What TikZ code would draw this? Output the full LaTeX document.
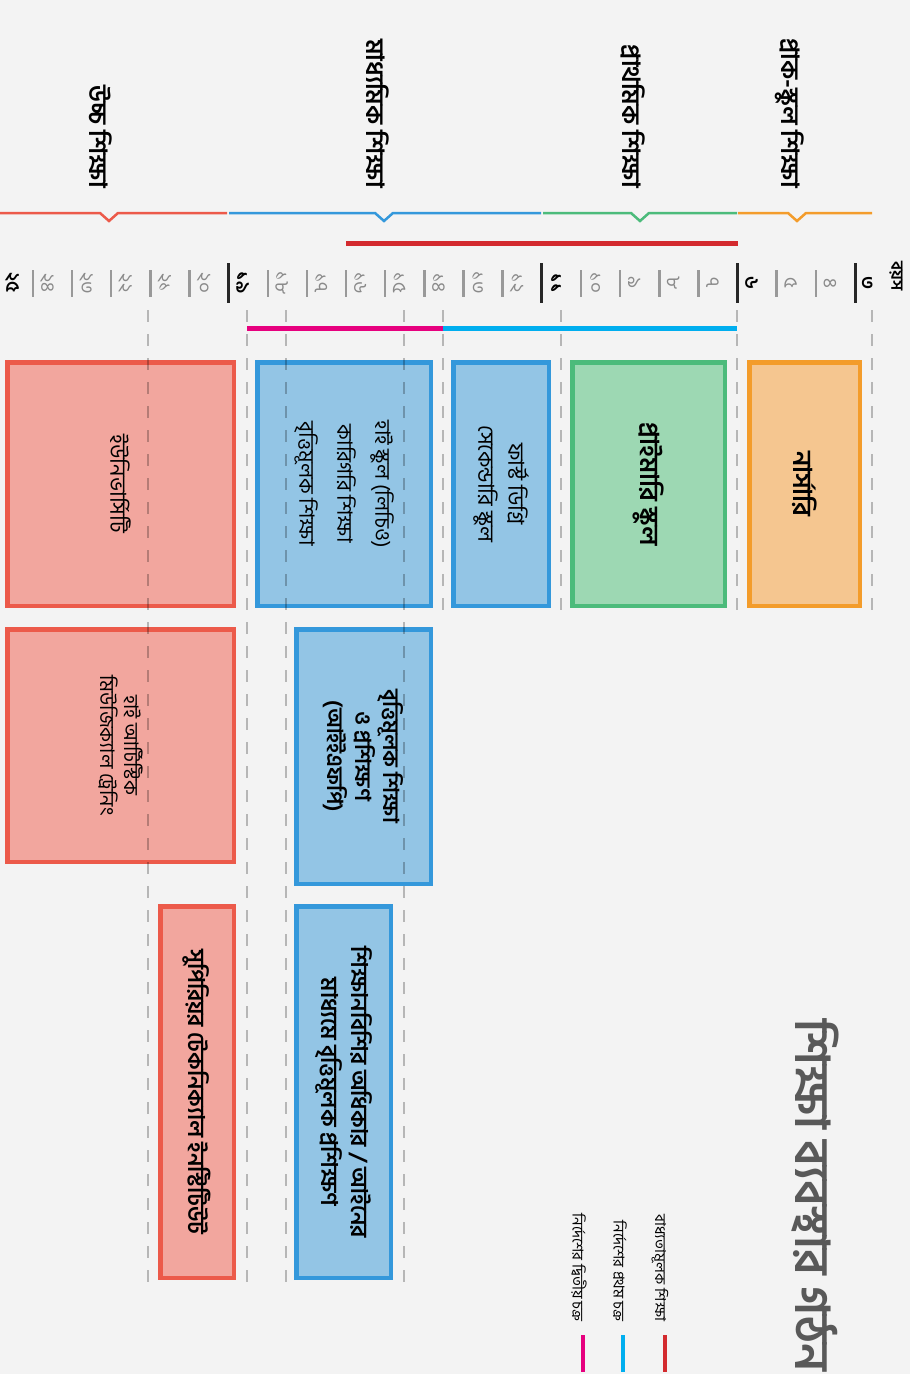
\documentclass[tikz,border=0pt]{standalone}
\usepackage{fontspec}
\newfontfamily\bn[Script=Bengali]{Hind Siliguri}
\definecolor{bg}{HTML}{F3F3F3}
\definecolor{orL}{HTML}{F39C2B}
\definecolor{orF}{HTML}{F5C690}
\definecolor{grL}{HTML}{4CBB7B}
\definecolor{grF}{HTML}{9DD8B3}
\definecolor{blL}{HTML}{3498DB}
\definecolor{blF}{HTML}{93C5E5}
\definecolor{rdL}{HTML}{EC5A4A}
\definecolor{rdF}{HTML}{F2A69E}
\definecolor{comp}{HTML}{D32A2E}
\definecolor{cyc}{HTML}{00AEEF}
\definecolor{pnk}{HTML}{E6007E}
\definecolor{tick}{HTML}{999999}
\definecolor{agegray}{HTML}{8A8A8A}
\definecolor{ttl}{HTML}{595959}
\begin{document}
\begin{tikzpicture}[x=1pt,y=-1pt,
  box/.style={draw, line width=4.5pt, rotate=-90, align=center, inner sep=0pt},
  hdr/.style={rotate=-90, anchor=east, inner sep=0pt, font=\bn\bfseries\fontsize{25}{28}\selectfont},
  agelab/.style={rotate=-90, inner sep=0pt, text=agegray, font=\bn\fontsize{19}{20}\selectfont},
  agekey/.style={rotate=-90, inner sep=0pt, text=black, font=\bn\bfseries\fontsize{19}{20}\selectfont},
  legtxt/.style={rotate=-90, anchor=east, inner sep=0pt, font=\bn\fontsize{15}{17}\selectfont},
  grid/.style={black, opacity=0.25, line width=1.3pt, dash pattern=on 12pt off 12pt},
  brk/.style={line width=2.5pt},
  ticklight/.style={tick, line width=2.5pt},
  tickdark/.style={black!85, line width=3pt}]
\fill[bg] (0,0) rectangle (910,1374);
\useasboundingbox (0,0) rectangle (910,1374);

% stage brackets
\draw[brk, orL] (738,213) -- (788,213) -- (797,221) -- (806,213) -- (872,213);
\draw[brk, grL] (543,213) -- (631,213) -- (640,221) -- (649,213) -- (737,213);
\draw[brk, blL] (229,213) -- (375,213) -- (384,221) -- (393,213) -- (541,213);
\draw[brk, rdL] (0,213) -- (100,213) -- (109,221) -- (118,213) -- (227,213);

% stage headers
\node[hdr] (pre) at (790,188) {প্রাক-স্কুল শিক্ষা};
\node[hdr] (prim) at (633,188) {প্রাথমিক শিক্ষা};
\node[hdr] (sec) at (378,188) {মাধ্যমিক শিক্ষা};
\node[hdr] (high) at (101,188) {উচ্চ শিক্ষা};

% compulsory bar
\draw[comp, line width=5pt] (346,243.5) -- (738,243.5);

% age axis
\node[rotate=-90, anchor=west, inner sep=0pt, font=\bn\bfseries\fontsize{17}{19}\selectfont] (agetitle) at (896,261) {বয়স};
\foreach \k in {0,...,21} {
  \pgfmathsetmacro{\bx}{855-39.15*\k}
  \ifnum\k=0 \draw[tickdark] (\bx,263) -- (\bx,303);
  \else\ifnum\k=3 \draw[tickdark] (\bx,263) -- (\bx,303);
  \else\ifnum\k=8 \draw[tickdark] (\bx,263) -- (\bx,303);
  \else\ifnum\k=16 \draw[tickdark] (\bx,263) -- (\bx,303);
  \else \draw[ticklight] (\bx,270) -- (\bx,297);
  \fi\fi\fi\fi
}
\node[agekey] (a3) at (867,283) {৩};
\node[agelab] (a4) at (829.85,283) {৪};
\node[agelab] (a5) at (790.7,283) {৫};
\node[agekey] (a6) at (751.55,283) {৬};
\node[agelab] (a7) at (712.4,283) {৭};
\node[agelab] (a8) at (673.25,283) {৮};
\node[agelab] (a9) at (634.1,283) {৯};
\node[agelab] (a10) at (594.95,283) {১০};
\node[agekey] (a11) at (555.8,283) {১১};
\node[agelab] (a12) at (516.65,283) {১২};
\node[agelab] (a13) at (477.5,283) {১৩};
\node[agelab] (a14) at (438.35,283) {১৪};
\node[agelab] (a15) at (399.2,283) {১৫};
\node[agelab] (a16) at (360.05,283) {১৬};
\node[agelab] (a17) at (320.9,283) {১৭};
\node[agelab] (a18) at (281.75,283) {১৮};
\node[agekey] (a19) at (242.6,283) {১৯};
\node[agelab] (a20) at (203.45,283) {২০};
\node[agelab] (a21) at (164.3,283) {২১};
\node[agelab] (a22) at (125.15,283) {২২};
\node[agelab] (a23) at (86,283) {২৩};
\node[agelab] (a24) at (46.85,283) {২৪};
\node[agekey] (a25) at (12,283) {২৫};

% cycle bars
\draw[cyc, line width=4.5pt] (443,328.5) -- (737,328.5);
\draw[pnk, line width=4.5pt] (247,328.5) -- (443,328.5);

% boxes
\node[box, draw=orL, fill=orF, minimum width=243.5, minimum height=110.5,
  font=\bn\bfseries\fontsize{26}{30}\selectfont] (nursery) at (804.5,484) {নার্সারি};
\node[box, draw=grL, fill=grF, minimum width=243.5, minimum height=152.5,
  font=\bn\bfseries\fontsize{26}{30}\selectfont] (primary) at (648.5,484) {প্রাইমারি স্কুল};
\node[box, draw=blL, fill=blF, minimum width=243.5, minimum height=95.5,
  font=\bn\fontsize{22}{30}\selectfont] (first) at (501,484) {ফার্স্ট ডিগ্রি\\সেকেন্ডারি স্কুল};
\node[box, draw=blL, fill=blF, minimum width=243.5, minimum height=173.5,
  font=\bn\fontsize{21}{38}\selectfont] (hs) at (344,484) {হাই স্কুল (লিচিও)\\কারিগরি শিক্ষা\\বৃত্তিমূলক শিক্ষা};
\node[box, draw=rdL, fill=rdF, minimum width=243.5, minimum height=226.5,
  font=\bn\fontsize{22}{26}\selectfont] (univ) at (120.5,484) {ইউনিভার্সিটি};
\node[box, draw=blL, fill=blF, minimum width=254.5, minimum height=134.5,
  font=\bn\bfseries\fontsize{22}{28}\selectfont] (iefp) at (363.5,756.5) {বৃত্তিমূলক শিক্ষা\\ও প্রশিক্ষণ\\(আইইএফপি)};
\node[box, draw=rdL, fill=rdF, minimum width=232.5, minimum height=226.5,
  font=\bn\fontsize{20}{24}\selectfont] (afam) at (120.5,745.5) {হাই আর্টিস্টিক\\মিউজিক্যাল ট্রেনিং};
\node[box, draw=blL, fill=blF, minimum width=371.5, minimum height=94.5,
  font=\bn\bfseries\fontsize{23}{30}\selectfont] (appr) at (343.5,1092) {শিক্ষানবিশির অধিকার / আইনের\\মাধ্যমে বৃত্তিমূলক প্রশিক্ষণ};
\node[box, draw=rdL, fill=rdF, minimum width=371.5, minimum height=73.5,
  font=\bn\bfseries\fontsize{23}{26}\selectfont] (its) at (197,1092) {সুপিরিয়র টেকনিক্যাল ইনস্টিটিউট};

% dashed grid lines
\foreach \gx in {872,737,561,443} \draw[grid] (\gx,310) -- (\gx,612);
\foreach \gx in {404,286,247,148} \draw[grid] (\gx,310) -- (\gx,1282);

% title
\node[rotate=-90, anchor=east, inner sep=0pt, text=ttl,
  font=\bn\bfseries\fontsize{48}{52}\selectfont] (title) at (815,1372) {শিক্ষা ব্যবস্থার গঠন};

% legend
\node[legtxt] (lcomp) at (660,1322) {বাধ্যতামূলক শিক্ষা};
\node[legtxt] (lfirst) at (620,1322) {নির্দেশের প্রথম চক্র};
\node[legtxt] (lsecond) at (579,1322) {নির্দেশের দ্বিতীয় চক্র};
\coordinate (lc1) at (665,1335); \coordinate (lc2) at (665,1372);
\coordinate (lf1) at (623,1335); \coordinate (lf2) at (623,1372);
\coordinate (ls1) at (583,1335); \coordinate (ls2) at (583,1372);
\draw[comp, line width=4pt] (lc1) -- (lc2);
\draw[cyc, line width=4pt] (lf1) -- (lf2);
\draw[pnk, line width=4pt] (ls1) -- (ls2);
\end{tikzpicture}
\end{document}
